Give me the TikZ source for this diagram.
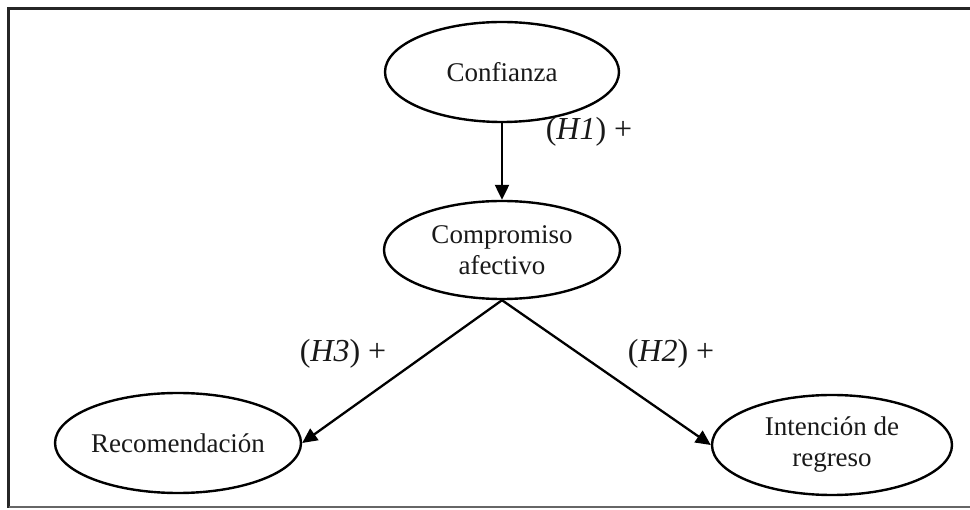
\documentclass[tikz,border=0pt]{standalone}
\usepackage{fontspec}
\setmainfont{Liberation Serif}
\usetikzlibrary{shapes.geometric,arrows.meta}
\begin{document}
\begin{tikzpicture}[x=1pt,y=-1pt,
  construct/.style={draw,ellipse,line width=2.4pt,inner sep=0pt,align=center,
    font=\fontsize{27}{31}\selectfont,text=black!90},
  hyp/.style={font=\fontsize{32}{36}\selectfont,text=black!90},
  link/.style={line width=2.3pt,-{Triangle[length=15pt,width=14pt]}}]
\useasboundingbox (0,0) rectangle (970,510);
\fill[white] (0,0) rectangle (970,510);
\draw[line width=3pt,black!85] (970,8.5) -- (8.5,8.5) -- (8.5,508);
\draw[line width=2pt,black!60] (8.5,507) -- (970,507);
\node[construct,minimum width=234pt,minimum height=100pt] (conf) at (502,72) {Confianza};
\node[construct,minimum width=236pt,minimum height=98pt] (comp) at (502,250) {Compromiso\\afectivo};
\node[construct,minimum width=240pt,minimum height=100pt] (rec) at (178,443) {Recomendación};
\node[construct,minimum width=240pt,minimum height=100pt] (inte) at (832,445) {Intención de\\regreso};
\draw[link] (conf.south) -- (comp.north);
\draw[link] (comp.south) -- (rec.east);
\draw[link] (comp.south) -- (inte.west);
\node[hyp] (h1) at (589,132) {(\textit{H1}) +};
\node[hyp] (h3) at (343,354) {(\textit{H3}) +};
\node[hyp] (h2) at (671,354) {(\textit{H2}) +};
\end{tikzpicture}
\end{document}
